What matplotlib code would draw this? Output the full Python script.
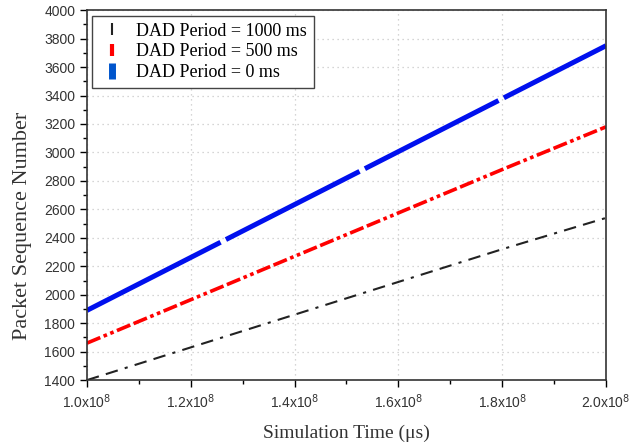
import matplotlib.pyplot as plt
from matplotlib.lines import Line2D
from matplotlib.ticker import MultipleLocator

# Simulation time (us) and packet sequence numbers
time_us = [1.0e8, 1.2e8, 1.4e8, 1.6e8, 1.8e8, 2.0e8]
seq_1000 = [1400, 1630, 1860, 2090, 2320, 2540]
seq_500 = [1660, 1965, 2270, 2575, 2880, 3180]
seq_0 = [1890, 2262, 2634, 3006, 3378, 3750]

labels = ['DAD Period = 1000 ms', 'DAD Period = 500 ms', 'DAD Period = 0 ms']
xtick_vals = [1.0e8, 1.2e8, 1.4e8, 1.6e8, 1.8e8, 2.0e8]
xtick_text = [r'1.0x10$^8$', r'1.2x10$^8$', r'1.4x10$^8$', r'1.6x10$^8$', r'1.8x10$^8$', r'2.0x10$^8$']

fig = plt.figure(figsize=(6.44, 4.42), dpi=100)
ax = fig.add_axes([0.135, 0.140, 0.806, 0.837])

l1, = ax.plot(time_us, seq_1000, color='#222222', lw=1.5)
l1.set_dashes([6, 3.5, 6, 3.5, 1.5, 3.5])
l2, = ax.plot(time_us, seq_500, color='#ff0000', lw=2.6)
l2.set_dashes([4, 1, 1, 1, 1, 1, 4, 1])
l3, = ax.plot(time_us, seq_0, color='#0010ee', lw=3.6)
l3.set_dashes([30, 1.2])

ax.set_xlim(1.0e8, 2.0e8)
ax.set_ylim(1400, 4000)
ax.set_xticks(xtick_vals)
ax.set_xticklabels(xtick_text, fontfamily='Liberation Sans', fontsize=10, color='#333333')
ax.xaxis.set_minor_locator(MultipleLocator(0.1e8))
ax.yaxis.set_major_locator(MultipleLocator(200))
ax.yaxis.set_minor_locator(MultipleLocator(100))
for t in ax.get_yticklabels():
    t.set_fontfamily('Liberation Sans')
    t.set_fontsize(10)
    t.set_color('#333333')

ax.tick_params(which='major', direction='out', length=5, width=1, top=False, right=False)
ax.tick_params(which='minor', direction='out', length=3, width=1, top=False, right=False)
ax.grid(True, which='major', linestyle=(0, (1, 3)), color='#c8c8c8', lw=0.9)
for s in ax.spines.values():
    s.set_linewidth(1.2)
    s.set_color('#333333')

ax.set_xlabel('Simulation Time (\u03bcs)', fontfamily='Liberation Serif', fontsize=14,
              color='#333333', labelpad=10)
ax.set_ylabel('Packet Sequence Number', fontfamily='Liberation Serif', fontsize=16,
              color='#333333')
ax.yaxis.set_label_coords(-0.106, 0.416)

# short vertical bars as legend keys, like the original
handles = [
    Line2D([], [], ls='none', marker='|', color='#222222', markersize=9, markeredgewidth=1.5),
    Line2D([], [], ls='none', marker='|', color='#ff0000', markersize=9, markeredgewidth=3),
    Line2D([], [], ls='none', marker='|', color='#0055cc', markersize=11, markeredgewidth=5),
]
leg = ax.legend(handles, labels, loc='upper left', prop={'family': 'Liberation Serif', 'size': 13},
                fancybox=False, edgecolor='#444444', framealpha=1,
                handlelength=1.4, handletextpad=0.6, borderaxespad=0.3, labelspacing=0.2,
                borderpad=0.4)
leg.get_frame().set_linewidth(1.0)

fig.savefig('out.png', dpi=100)
